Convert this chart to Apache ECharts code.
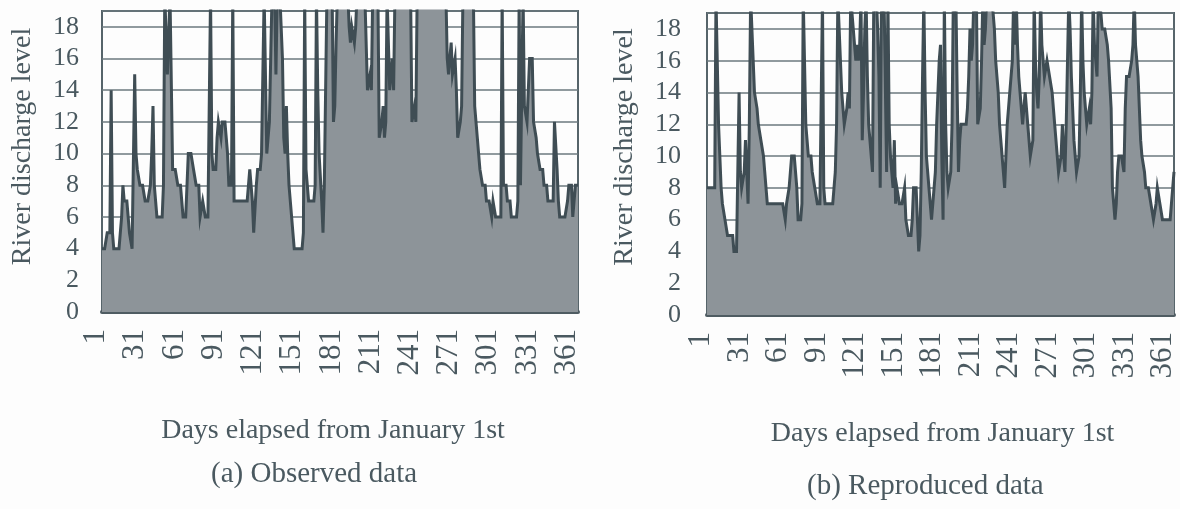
<!DOCTYPE html>
<html>
<head>
<meta charset="utf-8">
<script src="https://cdn.jsdelivr.net/npm/echarts@6/dist/echarts.min.js"></script>
<style>
html,body{margin:0;padding:0;background:#fdfdfd;}
#chart{width:1180px;height:509px;}
</style>
</head>
<body>
<div id="chart"></div>
<script>
// Categories: days elapsed from January 1st
const days = [];
for (let i = 1; i <= 365; i++) days.push(String(i));

// Y-axis range (values above the top are clipped at the frame)
const yMin = 0, yMax = 19, yStep = 2;

// (a) Observed river discharge level, one value per day
const observed = [
4,4,4,4,5,5,5,14,5,4,
4,4,4,4,4,6,8,7,7,7,
6,5,5,4,4,15,10,9,9,8,
8,8,8,7,7,7,7,8,10,13,
8,7,6,6,6,6,6,8,20,20,
15,15,20,20,9,9,9,9,8,8,
8,7,6,6,6,6,10,10,10,10,
9,9,8,8,8,6,6,7,7,6,
6,6,6,20,10,9,9,9,11,12,
12,11,12,12,12,11,10,8,8,8,
20,7,7,7,7,7,7,7,7,7,
7,7,8,9,9,7,5,5,8,9,
9,9,10,10,20,20,10,10,12,16,
20,20,20,15,20,20,20,20,16,11,
10,13,10,8,8,6,5,4,4,4,
4,4,4,4,5,20,9,8,7,7,
7,7,7,8,20,14,10,10,7,5,
8,14,20,20,20,20,20,12,13,17,
20,20,20,20,20,20,20,20,20,18,
17,18,18,17,18,20,20,20,20,20,
20,20,20,14,14,15,14,20,20,20,
20,20,11,11,12,13,11,12,20,20,
14,14,16,14,20,20,20,20,20,20,
20,20,20,20,20,20,20,12,12,13,
12,20,20,20,20,20,20,20,20,20,
20,20,20,20,20,20,20,20,20,20,
20,20,20,20,16,15,15,17,15,15,
16,14,11,11,12,13,20,20,20,20,
20,20,20,20,20,13,12,11,10,9,
9,8,8,8,7,7,7,7,6,7,
7,6,6,6,6,6,20,8,8,8,
7,7,7,6,6,6,6,6,7,20,
8,8,20,13,13,12,12,16,16,16,
12,12,11,10,10,9,9,9,8,8,
8,7,7,7,7,7,12,12,9,7,
6,6,6,6,6,6,7,8,8,8,
6,7,8,8,8
];

// (b) Reproduced river discharge level, one value per day
const reproduced = [
8,8,8,8,8,8,8,20,16,12,
10,8,7,7,6,6,5,5,5,5,
5,4,4,4,4,14,9,8,8,9,
11,11,7,12,20,20,16,14,14,13,
12,12,11,11,10,9,8,7,7,7,
7,7,7,7,7,7,7,7,7,7,
7,6,7,7,8,9,10,10,10,9,
8,6,6,6,7,20,16,12,11,10,
10,10,9,9,8,8,7,7,7,7,
20,8,7,7,7,7,7,7,7,8,
9,12,20,20,16,14,13,12,12,13,
14,13,20,20,18,17,16,17,16,17,
20,11,14,18,20,15,12,11,10,9,
20,20,20,18,15,8,20,20,20,20,
9,20,12,10,9,8,11,7,8,8,
7,7,7,7,8,6,6,5,5,5,
6,8,8,8,6,4,5,9,15,20,
14,10,9,8,7,6,7,8,9,12,
14,16,17,10,6,20,12,9,8,8,
9,12,20,20,20,14,9,11,12,12,
12,12,12,13,15,18,16,17,20,20,
20,12,12,13,16,20,17,18,20,20,
20,20,20,20,18,16,15,14,12,11,
10,9,8,8,12,13,14,14,16,20,
17,20,17,15,14,13,12,13,14,13,
12,11,10,10,11,20,16,14,13,15,
20,17,16,15,15,16,16,15,15,14,
13,12,11,10,9,9,10,12,10,9,
12,16,20,18,15,13,11,10,9,9,
10,14,20,16,14,13,12,12,13,12,
14,20,17,16,15,20,20,19,18,18,
18,18,17,16,16,13,8,7,6,7,
9,10,10,10,10,9,13,15,15,15,
15,16,17,20,17,16,15,13,11,10,
10,9,8,8,8,8,7,7,6,6,
7,8,8,7,7,6,6,6,6,6,
6,6,7,8,9
];

const ink = '#4a5960';
const serif = '"Liberation Serif", "DejaVu Serif", serif';

function xAxisFor(gridIndex, namePad) {
  return {
    type: 'category', gridIndex, data: days, boundaryGap: false,
    name: 'Days elapsed from January 1st', nameLocation: 'middle', nameGap: 105,
    nameTextStyle: { fontFamily: serif, fontSize: 28, color: ink, padding: namePad },
    axisLine: { show: true, lineStyle: { color: '#4f5c62', width: 4 } },
    axisTick: { show: false },
    axisLabel: {
      interval: (idx) => idx % 30 === 0,
      rotate: 90, margin: 17,
      verticalAlign: 'bottom', lineHeight: 12,
      fontFamily: serif, fontSize: 31, color: ink
    },
    splitLine: { show: false }
  };
}
function yAxisFor(gridIndex, gap, margin, shift) {
  return {
    type: 'value', gridIndex, min: yMin, max: yMax, interval: yStep,
    name: 'River discharge level', nameLocation: 'middle', nameGap: gap,
    nameTextStyle: { fontFamily: serif, fontSize: 28, color: ink, padding: [0, 0, 0, shift] },
    axisLine: { show: false }, axisTick: { show: false },
    axisLabel: { showMaxLabel: false, margin, fontFamily: serif, fontSize: 26, color: ink },
    splitLine: { show: true, lineStyle: { color: '#6b787e', width: 1.5 } }
  };
}
function seriesFor(idx, data) {
  return {
    type: 'line', xAxisIndex: idx, yAxisIndex: idx, data,
    symbol: 'none', clip: true, animation: false,
    lineStyle: { color: '#3f4d54', width: 3, join: 'miter' },
    areaStyle: { color: '#8d9499', opacity: 1 }
  };
}

const chart = echarts.init(document.getElementById('chart'), null, { renderer: 'canvas' });
chart.setOption({
  backgroundColor: '#fdfdfd',
  animation: false,
  grid: [
    { left: 102, top: 11, right: 602, bottom: 197, show: true, borderColor: '#56646a', borderWidth: 2, backgroundColor: 'transparent' },
    { left: 707, top: 13, right: 6, bottom: 194, show: true, borderColor: '#56646a', borderWidth: 2, backgroundColor: 'transparent' }
  ],
  xAxis: [xAxisFor(0, [0, 14, 0, 0]), xAxisFor(1, [0, 0, 0, 4])],
  yAxis: [yAxisFor(0, 65, 23, 30), yAxisFor(1, 68, 26, 34)],
  series: [seriesFor(0, observed), seriesFor(1, reproduced)],
  graphic: [
    { type: 'text', left: 317 - 106, top: 460, style: { text: '(a) Observed data', font: '29px ' + serif, fill: ink } },
    { type: 'text', left: 928 - 121, top: 472, style: { text: '(b) Reproduced data', font: '29px ' + serif, fill: ink } }
  ]
});
</script>
</body>
</html>
